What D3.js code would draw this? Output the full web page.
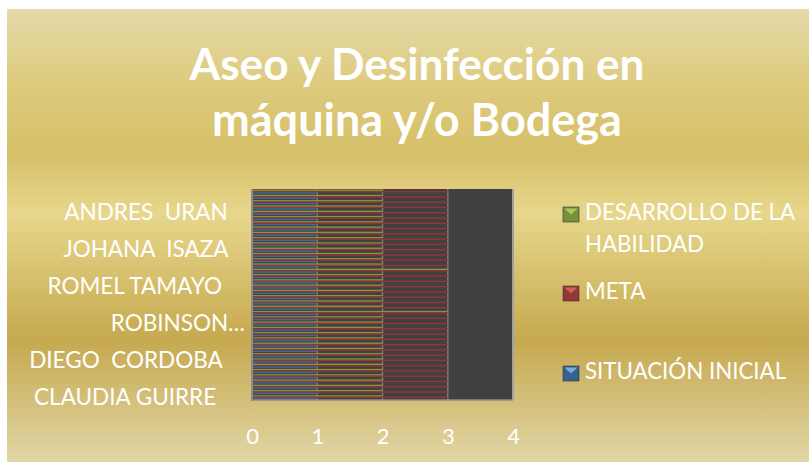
<!DOCTYPE html>
<html><head><meta charset="utf-8">
<script src="https://cdn.jsdelivr.net/npm/d3@7"></script>
<style>
html,body{margin:0;padding:0;background:#fff;}
svg{display:block;}
text{font-family:Lato,"Open Sans",sans-serif;white-space:pre;}
</style></head>
<body>
<svg id="c" width="809" height="462"></svg>
<script>
// ---- data ----
const titleLines = ["Aseo y Desinfección en", "máquina y/o Bodega"];
// 40 categories, first one drawn at the bottom; only every 7th label is shown
const categories = [
  "CLAUDIA GUIRRE     ","","","","","","",
  "DIEGO  CORDOBA    ","","","","","","",
  "ROBINSON…","","","","","","",
  "ROMEL TAMAYO    ","","","","","","",
  "JOHANA  ISAZA   ","","","","","","",
  "ANDRES  URAN   ","","","",""
];
const shownLabels = [0, 7, 14, 21, 28, 35];
const seriesNames = ["DESARROLLO DE LA HABILIDAD", "META", "SITUACIÓN INICIAL"];
const desarrollo = [2,2,2,2,2,2,2,2,2,2, 2,2,2,2,2,2,3,2,2,2, 2,2,2,2,3,2,2,2,2,2, 2,2,2,2,2,2,2,2,2,2];
const meta       = [3,3,3,3,3,3,3,3,3,3, 3,3,3,3,3,3,3,3,3,3, 3,3,3,3,3,3,3,3,3,3, 3,3,3,3,3,3,3,3,3,3];
const situacion  = [1,1,1,1,1,1,1,1,1,1, 1,1,1,1,1,1,1,1,1,1, 1,1,1,1,1,1,1,1,1,1, 1,1,1,1,1,1,1,1,1,1];
const xTicks = [0, 1, 2, 3, 4];

const seriesData = [desarrollo, meta, situacion];
const barColors = ["#7f9a3c", "#9a3238", "#42679c"];
const legendColors = [
  {base:"#76923c", top:"#a9c862"},
  {base:"#953735", top:"#d0605c"},
  {base:"#376092", top:"#7fa9de"}
];

const svg = d3.select("#c");
const defs = svg.append("defs");
const bg = defs.append("linearGradient").attr("id","bg").attr("x1",0).attr("y1",0).attr("x2",0).attr("y2",1);
[[0,"#e4daa8"],[0.17,"#ddca7c"],[0.32,"#d6bf68"],[0.45,"#e7d78c"],[0.73,"#c6a94f"],[1,"#e1d6a6"]]
  .forEach(([o,c])=>bg.append("stop").attr("offset",o).attr("stop-color",c));

// chart area
svg.append("rect").attr("x",7).attr("y",9).attr("width",802).attr("height",453).attr("fill","url(#bg)");

// title
const title = svg.append("g");
titleLines.forEach((t,i)=>{
  const tx = title.append("text").attr("x",417).attr("y",80+i*56)
    .attr("text-anchor","middle").attr("fill","#fff").attr("font-weight","bold")
    .attr("font-size",44).text(t);
  const w = tx.node().getComputedTextLength();
  const target = i===0 ? 455 : 410;
  tx.attr("font-size", 44*target/w);
});

// plot
const plot = {x0:252, x1:513, y0:189, y1:400};
const x = d3.scaleLinear().domain([0,4]).range([plot.x0, plot.x1]);
const y = d3.scaleBand().domain(d3.range(categories.length)).range([plot.y1, plot.y0])
  .paddingInner(0.2).paddingOuter(0.1);
const ySub = d3.scaleBand().domain([0,1,2]).range([0, y.bandwidth()]);

svg.append("rect").attr("x",plot.x0).attr("y",plot.y0).attr("width",plot.x1-plot.x0)
  .attr("height",plot.y1-plot.y0).attr("fill","#404040");

// gridlines
svg.append("g").selectAll("line").data(xTicks.slice(1,4)).join("line")
  .attr("x1",d=>x(d)).attr("x2",d=>x(d)).attr("y1",plot.y0).attr("y2",plot.y1)
  .attr("stroke","#7a7a7a").attr("stroke-width",1.5);

// bars
seriesData.forEach((vals,s)=>{
  svg.append("g").selectAll("rect").data(vals).join("rect")
    .attr("x", x(0))
    .attr("y", (d,i)=>y(i)+ySub(s))
    .attr("width", d=>x(d)-x(0))
    .attr("height", ySub.bandwidth())
    .attr("fill", barColors[s]);
});

// frame
svg.append("line").attr("x1",plot.x0).attr("x2",plot.x0).attr("y1",plot.y0).attr("y2",plot.y1+1)
  .attr("stroke","#8c8c8c").attr("stroke-width",2);
svg.append("line").attr("x1",plot.x0).attr("x2",plot.x1).attr("y1",plot.y1).attr("y2",plot.y1)
  .attr("stroke","#8c8c8c").attr("stroke-width",1.5);
svg.append("line").attr("x1",plot.x1).attr("x2",plot.x1).attr("y1",plot.y0).attr("y2",plot.y1)
  .attr("stroke","#a0a0a0").attr("stroke-width",2);

// y axis labels
const yAxis = d3.axisLeft(y).tickValues(shownLabels).tickFormat(i=>categories[i]).tickSize(0).tickPadding(7);
const ya = svg.append("g").attr("transform",`translate(${plot.x0},0)`).call(yAxis);
ya.select(".domain").remove();
ya.selectAll("text").attr("fill","#fff").attr("font-size",22.5).attr("font-family","Lato,'Open Sans',sans-serif");

// x axis labels
const xAxis = d3.axisBottom(x).tickValues(xTicks).tickFormat(d3.format("d")).tickSize(0).tickPadding(28);
const xa = svg.append("g").attr("transform",`translate(0,${plot.y1})`).call(xAxis);
xa.select(".domain").remove();
xa.selectAll("text").attr("fill","#fff").attr("font-size",22).attr("font-family","Lato,'Open Sans',sans-serif");

// legend
const legendItems = [
  {lines:["DESARROLLO DE LA","HABILIDAD"], y:207},
  {lines:["META"], y:286},
  {lines:["SITUACIÓN INICIAL"], y:366}
];
legendItems.forEach((it,i)=>{
  const g = svg.append("g");
  const lx=563, s=15;
  g.append("rect").attr("x",lx).attr("y",it.y).attr("width",s+1).attr("height",s).attr("fill",legendColors[i].base)
    .attr("stroke","#333").attr("stroke-width",0.6);
  g.append("path").attr("d",`M${lx+1.5},${it.y+1.5}L${lx+s-0.5},${it.y+1.5}L${lx+s/2+0.5},${it.y+s/2}Z`)
    .attr("fill",legendColors[i].top);
  it.lines.forEach((t,j)=>{
    g.append("text").attr("x",585).attr("y",it.y+13+j*32).attr("fill","#fff")
      .attr("font-size",22.3).text(t);
  });
});
</script>
</body></html>
